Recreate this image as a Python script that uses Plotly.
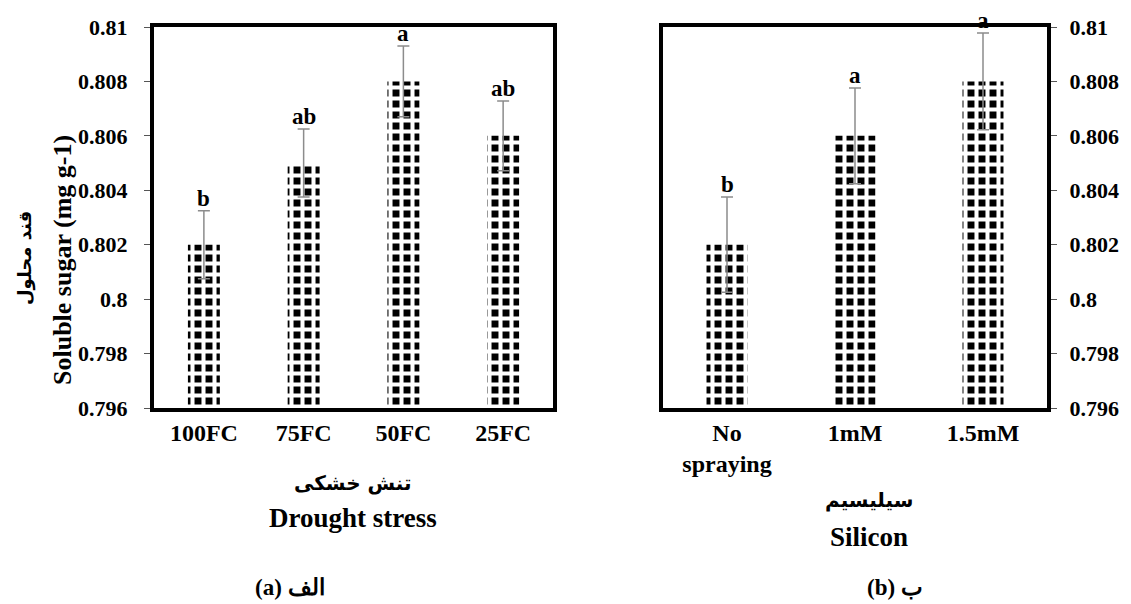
import plotly.graph_objects as go

# ---- data ----
drought_cats = ["100FC", "75FC", "50FC", "25FC"]
drought_vals = [0.802, 0.805, 0.808, 0.806]
drought_err = [0.00125, 0.00125, 0.0013, 0.00128]
drought_letters = ["b", "ab", "a", "ab"]

silicon_cats = ["No<br>spraying", "1mM", "1.5mM"]
silicon_vals = [0.802, 0.806, 0.808]
silicon_err = [0.00175, 0.00176, 0.00178]
silicon_letters = ["b", "a", "a"]

y_tickvals = [0.796, 0.798, 0.800, 0.802, 0.804, 0.806, 0.808, 0.810]
y_ticktext = ["0.796", "0.798", "0.8", "0.802", "0.804", "0.806", "0.808", "0.81"]

SERIF = "Liberation Serif, Times New Roman, serif"
ARABIC = "DejaVu Sans, Noto Sans, sans-serif"

W, H = 1131, 604

def bar_trace(cats, vals, errs, xa, ya):
    return go.Bar(
        x=cats, y=vals, xaxis=xa, yaxis=ya, width=0.32,
        marker=dict(
            color="black",
            line=dict(width=0),
            pattern=dict(shape="+", fgcolor="white", bgcolor="black",
                         size=11, solidity=0.6, fillmode="replace"),
        ),
        error_y=dict(type="data", array=errs, visible=True,
                     color="#8c8c8c", thickness=1.5, width=6),
        showlegend=False,
    )

fig = go.Figure()
fig.add_trace(bar_trace(drought_cats, drought_vals, drought_err, "x", "y"))
fig.add_trace(bar_trace(silicon_cats, silicon_vals, silicon_err, "x2", "y2"))

ydom = [1 - 408 / H, 1 - 27 / H]
axis_common = dict(showline=True, linecolor="black", linewidth=4, mirror=True,
                   showgrid=False, zeroline=False, automargin=False)
ytickfont = dict(family=SERIF, size=22, color="black", weight="bold")
xtickfont = dict(family=SERIF, size=24, color="black", weight="bold")

fig.update_layout(
    template="none",
    width=W, height=H,
    margin=dict(l=0, r=0, t=0, b=0, pad=0, autoexpand=False),
    paper_bgcolor="white", plot_bgcolor="white",
    bargap=0.68,
    showlegend=False,
    xaxis=dict(domain=[154 / W, 553 / W], anchor="y", ticks="",
               tickfont=xtickfont, **axis_common),
    yaxis=dict(domain=ydom, anchor="x", range=[0.796, 0.81],
               tickvals=y_tickvals, ticktext=y_ticktext,
               ticks="outside", ticklen=6, tickcolor="#555", tickwidth=1,
               ticklabelstandoff=12,
               tickfont=ytickfont, **axis_common),
    xaxis2=dict(domain=[663 / W, 1047 / W], anchor="y2", ticks="",
                tickfont=xtickfont, **axis_common),
    yaxis2=dict(domain=ydom, anchor="x2", side="right", range=[0.796, 0.81],
                tickvals=y_tickvals, ticktext=y_ticktext,
                ticks="outside", ticklen=6, tickcolor="#555", tickwidth=1,
                ticklabelstandoff=8,
                tickfont=ytickfont, **axis_common),
)

ann = []
# significance letters
for c, v, e, t in zip(drought_cats, drought_vals, drought_err, drought_letters):
    ann.append(dict(x=c, y=v + e, xref="x", yref="y", text="<b>%s</b>" % t,
                    showarrow=False, yanchor="bottom", yshift=-2,
                    font=dict(family=SERIF, size=23, color="black")))
for c, v, e, t in zip(silicon_cats, silicon_vals, silicon_err, silicon_letters):
    ann.append(dict(x=c, y=v + e, xref="x2", yref="y2", text="<b>%s</b>" % t,
                    showarrow=False, yanchor="bottom", yshift=-2,
                    font=dict(family=SERIF, size=23, color="black")))

def paper_text(text, x, y, size, family, angle=0):
    return dict(text=text, x=x / W, y=1 - y / H, xref="paper", yref="paper",
                showarrow=False, textangle=angle, xanchor="center", yanchor="middle",
                font=dict(family=family, size=size, color="black"))

ann += [
    paper_text("<b>Soluble sugar (mg g-1)</b>", 62, 260, 26, SERIF, -90),
    paper_text("<b>قند محلول</b>", 25, 258, 18, ARABIC, -90),
    paper_text("<b>تنش خشکی</b>", 353, 483, 20, ARABIC),
    paper_text("<b>Drought stress</b>", 353, 518, 27, SERIF),
    paper_text("<b>(a) الف</b>", 290, 587, 23, SERIF),
    paper_text("<b>سیلیسیم</b>", 869, 500, 20, ARABIC),
    paper_text("<b>Silicon</b>", 869, 537, 27, SERIF),
    paper_text("<b>(b) ب</b>", 895, 587, 23, SERIF),
]
fig.update_layout(annotations=ann)

fig.write_html("out.html", config={"displayModeBar": False},
               post_script="document.body.style.margin='0';document.body.style.padding='0';")
